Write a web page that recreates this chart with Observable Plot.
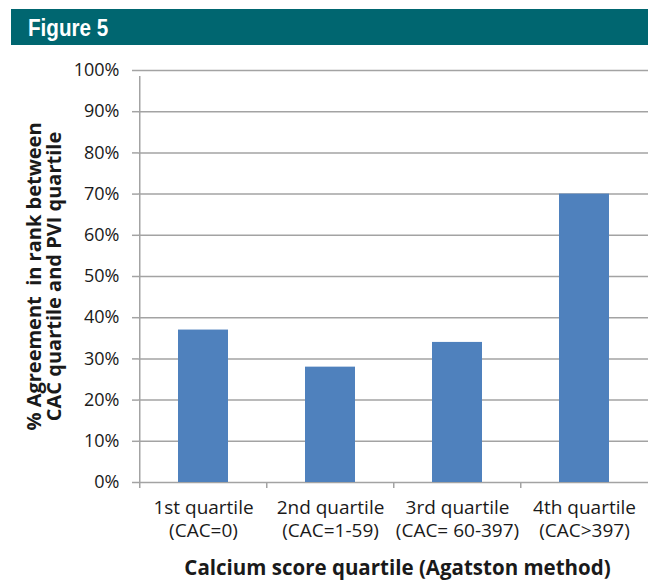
<!DOCTYPE html>
<html>
<head>
<meta charset="utf-8">
<script src="https://cdn.jsdelivr.net/npm/d3@7"></script>
<script src="https://cdn.jsdelivr.net/npm/@observablehq/plot@0.6"></script>
<style>
  html, body { margin: 0; padding: 0; background: #fff; }
  #header {
    margin: 9px 0 0 11px; height: 36px; width: 637px; background: #006670;
    color: #fff; font-family: "Liberation Sans", "DejaVu Sans", sans-serif;
    font-weight: bold; font-size: 24px; line-height: 37px; padding-left: 17px; box-sizing: border-box;
    overflow: hidden;
  }
  #header span { display: inline-block; transform: scaleX(0.86); transform-origin: left center; }
  #chart svg { display: block; }
</style>
</head>
<body>
<div id="header"><span>Figure 5</span></div>
<div id="chart"></div>
<script>
const categories = ["1st quartile", "2nd quartile", "3rd quartile", "4th quartile"];
const ranges = ["(CAC=0)", "(CAC=1-59)", "(CAC= 60-397)", "(CAC>397)"];
const agreement = [37, 28, 34, 70];
const yTicks = [0, 10, 20, 30, 40, 50, 60, 70, 80, 90, 100];
const yTitle = ["% Agreement  in rank between", "CAC quartile and PVI quartile"];
const xTitle = "Calcium score quartile (Agatston method)";

const data = categories.map((c, i) => ({category: c, range: ranges[i], value: agreement[i]}));
const gray = "#a3a3a3";
const W = 648, ML = 138, MR = 0;
const step = (W - ML - MR) / categories.length;

const chart = Plot.plot({
  width: W,
  height: 540,
  marginLeft: ML,
  marginRight: MR,
  marginTop: 25,
  marginBottom: 103,
  style: {fontFamily: "'Open Sans', Lato, sans-serif", fontSize: "18px", color: "#1a1a1a", background: "#fff"},
  x: {domain: categories, paddingInner: 0.61, paddingOuter: 0.305},
  y: {domain: [0, 100]},
  marks: [
    Plot.gridY(yTicks, {stroke: gray, strokeOpacity: 1, strokeWidth: 1.5}),
    Plot.barY(data, {x: "category", y: "value", fill: "#4f81bd"}),
    Plot.ruleX([categories[0]], {x: d => d, y1: 0, y2: 100, dx: -step / 2, insetBottom: -6, stroke: gray, strokeWidth: 1.5}),
    Plot.ruleX(categories, {x: d => d, y1: 0, y2: 0, dx: -step / 2, insetBottom: -6, stroke: gray, strokeWidth: 1.5}),
    Plot.axisY(yTicks, {tickFormat: d => d + "%", tickSize: 6, tickPadding: 13, stroke: gray, strokeWidth: 1.5, fontSize: 18, label: null}),
    Plot.axisX({tickSize: 0, tickPadding: 16, tickFormat: d => d + "\n" + ranges[categories.indexOf(d)], lineHeight: 1.18, fontSize: 19, label: null}),
    Plot.text([xTitle], {frameAnchor: "bottom", text: d => d, dy: 86, dx: 4, fontWeight: "bold", fontSize: 20.5, lineAnchor: "middle"}),
    Plot.text([yTitle.join("\n")], {frameAnchor: "left", text: d => d, rotate: -90, dx: -94, textAnchor: "middle", fontWeight: "bold", fontSize: 20, lineHeight: 1.0, lineAnchor: "middle"})
  ]
});
document.getElementById("chart").appendChild(chart);
</script>
</body>
</html>
